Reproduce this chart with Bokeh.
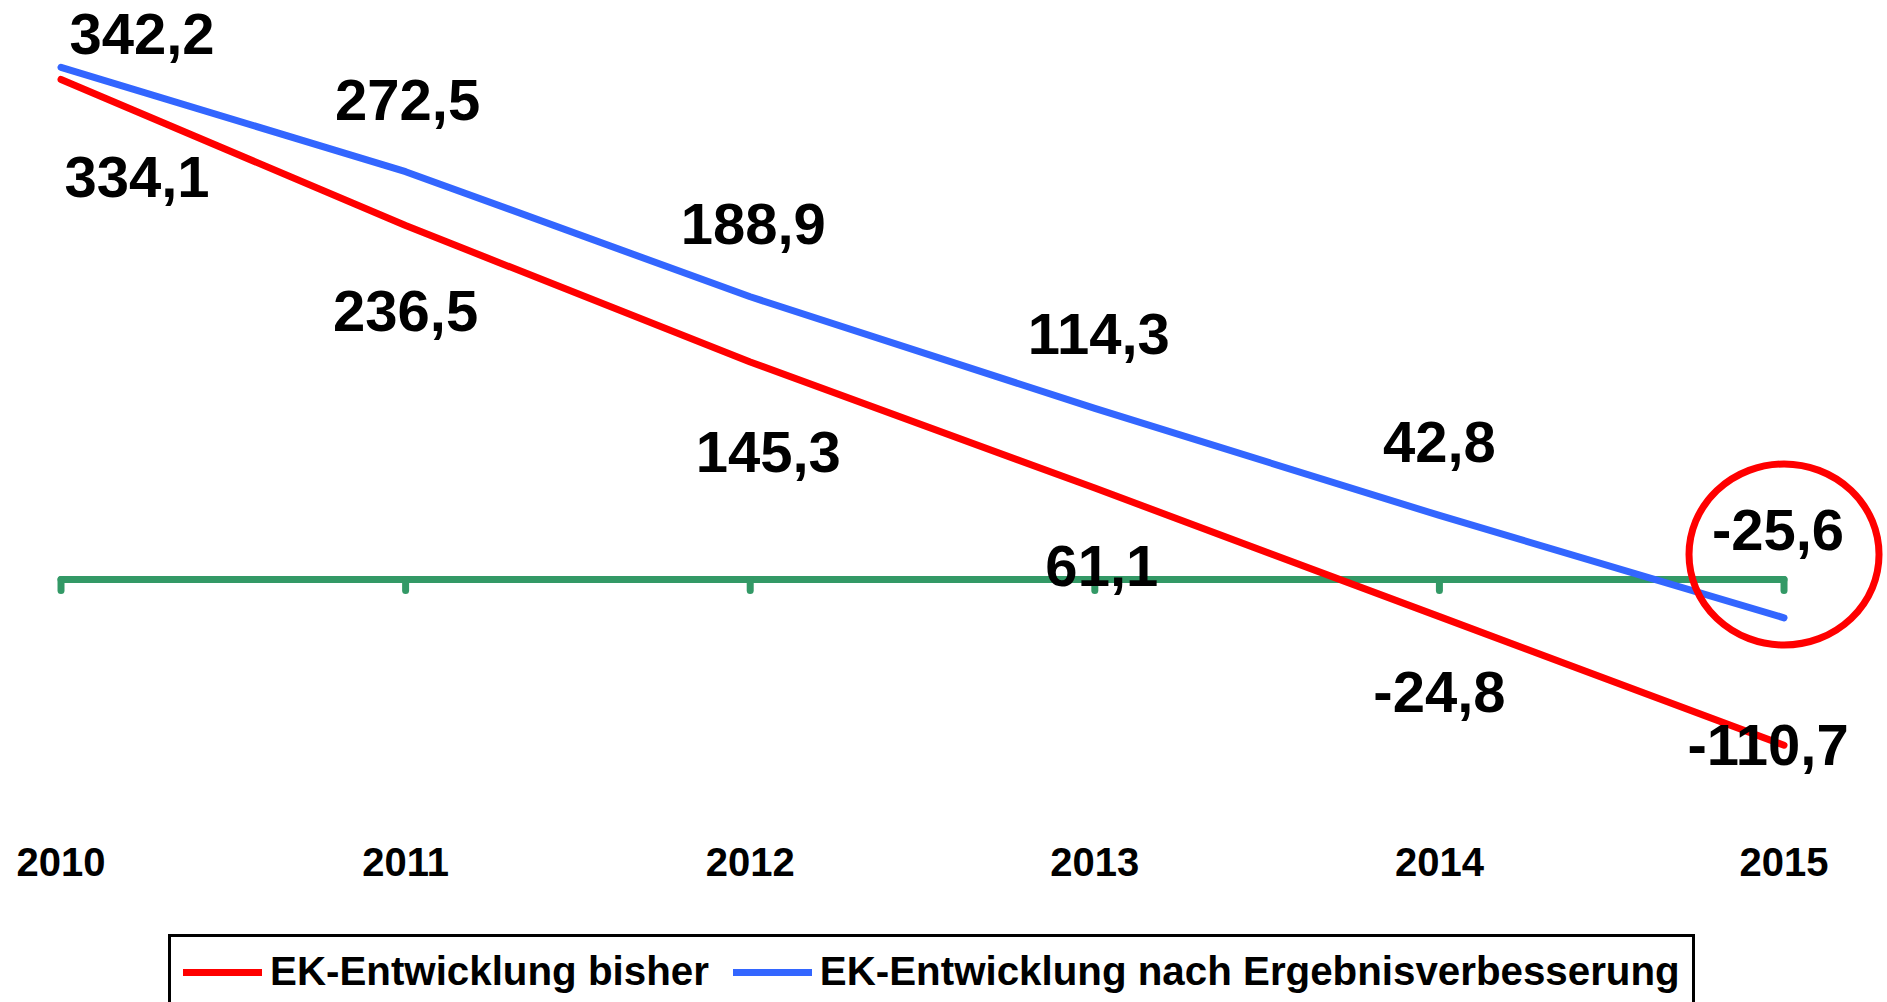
from bokeh.plotting import figure
from bokeh.models import ColumnDataSource, Legend, LegendItem, Range1d
from bokeh.core.properties import value
from bokeh.embed import file_html
from bokeh.resources import INLINE

# ---- data ----
years = [2010, 2011, 2012, 2013, 2014, 2015]
year_labels = ["2010", "2011", "2012", "2013", "2014", "2015"]
ek_bisher = [334.1, 236.5, 145.3, 61.1, -24.8, -110.7]
ek_nach = [342.2, 272.5, 188.9, 114.3, 42.8, -25.6]
series_names = ["EK-Entwicklung bisher", "EK-Entwicklung nach Ergebnisverbesserung"]

# ---- label placement (screen px offsets, style only) ----
bisher_dx = [76, 0, 18, 7, 0, -16]
bisher_dy = [98, 85, 90, 78, 75, 0]
nach_dx = [81, 2, 3, 4, 0, -6]
nach_dy = [-33, -72, -73, -74, -73, -88]
year_label_dy = 283   # category labels sit at the low end of the plot

FONT = "Liberation Sans"
RED = "#FF0000"
BLUE = "#3366FF"
GREEN = "#339966"
W, H = 1887, 1002
PX_PER_UNIT = 1.4966


def fmt(v):
    return f"{v:.1f}".replace(".", ",")


p = figure(width=W, height=H, output_backend="svg", toolbar_location=None,
           x_range=Range1d(2009.8244, 2015.3003), y_range=Range1d(-282.64, 386.87),
           x_axis_location=None, y_axis_location=None,
           min_border_left=0, min_border_right=0, min_border_top=0, min_border_bottom=0)
p.xgrid.visible = False
p.ygrid.visible = False
p.outline_line_color = None
p.background_fill_color = "white"
p.border_fill_color = "white"

# zero axis line (green) with downward ticks
p.line(x=[years[0], years[-1]], y=[0, 0], line_color=GREEN, line_width=7, line_cap="round")
tick_len = 11 / PX_PER_UNIT
p.segment(x0=years, y0=[0] * len(years), x1=years, y1=[-tick_len] * len(years),
          line_color=GREEN, line_width=7, line_cap="round")

# category labels
p.text(x=years, y=[0] * len(years), text=year_labels, y_offset=year_label_dy,
       text_font=value(FONT), text_font_style="bold", text_font_size="40px",
       text_align="center", text_baseline="middle", text_color="black")

src = ColumnDataSource(dict(x=years, red=ek_bisher, blue=ek_nach))
r_red = p.line("x", "red", source=src, line_color=RED, line_width=7,
               line_cap="round", line_join="round")
r_blue = p.line("x", "blue", source=src, line_color=BLUE, line_width=7,
                line_cap="round", line_join="round")

lab_red = ColumnDataSource(dict(x=years, y=ek_bisher, t=[fmt(v) for v in ek_bisher],
                                dx=bisher_dx, dy=bisher_dy))
lab_blue = ColumnDataSource(dict(x=years, y=ek_nach, t=[fmt(v) for v in ek_nach],
                                 dx=nach_dx, dy=nach_dy))
for s in (lab_red, lab_blue):
    p.text(x="x", y="y", text="t", x_offset="dx", y_offset="dy", source=s,
           text_font=value(FONT), text_font_style="bold", text_font_size="58px",
           text_align="center", text_baseline="middle", text_color="black")

# highlight circle around the last value of the improved series
p.ellipse(x=[years[-1]], y=[ek_nach[-1] + 42.3], width=190, height=181,
          width_units="screen", height_units="screen",
          fill_color=None, line_color=RED, line_width=7)

legend = Legend(items=[LegendItem(label=series_names[0], renderers=[r_red]),
                       LegendItem(label=series_names[1], renderers=[r_blue])],
                location=(168, -8), orientation="horizontal",
                label_text_font=FONT, label_text_font_style="bold",
                label_text_font_size="40.3px", label_text_color="black",
                glyph_width=79, glyph_height=20, label_standoff=8, spacing=24,
                padding=12, margin=0, border_line_color="black", border_line_width=3,
                border_line_alpha=1.0,
                background_fill_color="white", background_fill_alpha=1.0)
p.add_layout(legend, "center")

open("out.html", "w").write(file_html(p, INLINE))
